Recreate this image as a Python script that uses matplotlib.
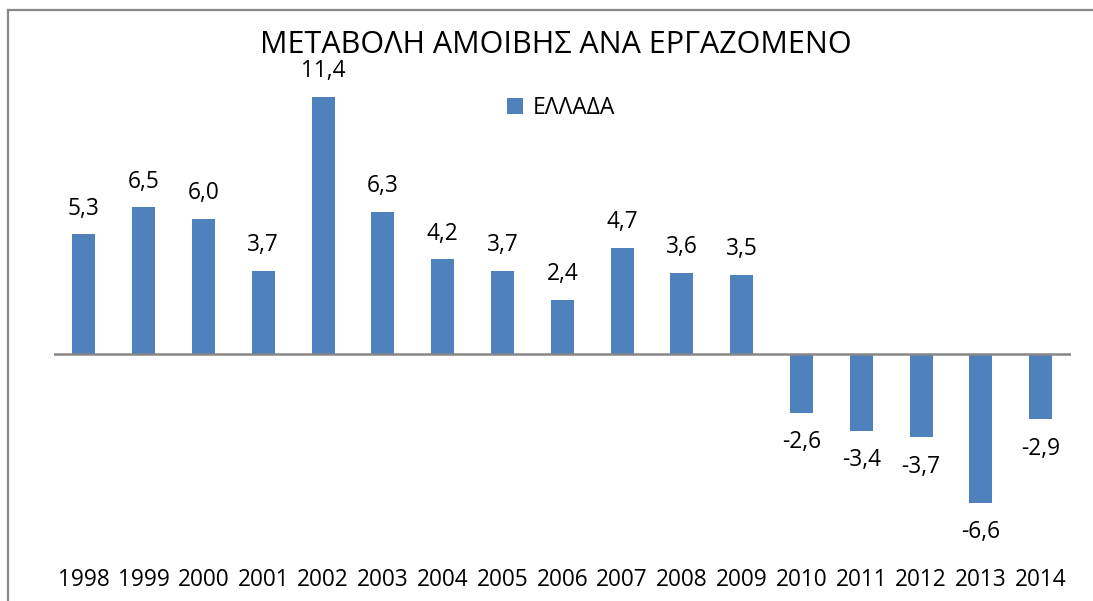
import matplotlib
matplotlib.use("Agg")
import matplotlib.pyplot as plt
from matplotlib.lines import Line2D

years = ["1998", "1999", "2000", "2001", "2002", "2003", "2004", "2005", "2006",
         "2007", "2008", "2009", "2010", "2011", "2012", "2013", "2014"]
values = [5.3, 6.5, 6.0, 3.7, 11.4, 6.3, 4.2, 3.7, 2.4, 4.7, 3.6, 3.5,
          -2.6, -3.4, -3.7, -6.6, -2.9]
series_name = "ΕΛΛΑΔΑ"
title = "ΜΕΤΑΒΟΛΗ ΑΜΟΙΒΗΣ ΑΝΑ ΕΡΓΑΖΟΜΕΝΟ"

plt.rcParams['font.family'] = ['Open Sans', 'DejaVu Sans']

W, H = 1093, 601
fig = plt.figure(figsize=(W / 100, H / 100), dpi=100)
fig.patch.set_facecolor("white")

# border (top and left visible)
fig.add_artist(Line2D([8 / W, 1.0], [1 - 10 / H, 1 - 10 / H], color="#898989", lw=1.6))
fig.add_artist(Line2D([8 / W, 8 / W], [0, 1 - 10 / H], color="#898989", lw=1.6))

left, right = 54 / W, 1070.6 / W
top_px, bot_px = 83.4, 534.4
ax = fig.add_axes([left, 1 - bot_px / H, right - left, (bot_px - top_px) / H])
ax.set_facecolor("none")

x = list(range(len(years)))
color = "#4F81BD"
bars = ax.bar(x, values, width=0.385, color=color, label=series_name, zorder=2)
ax.set_xlim(-0.5, len(years) - 0.5)
ax.set_ylim(-8, 12)
ax.axhline(0, color="#868686", lw=1.8, zorder=3)

for xi, v in zip(x, values):
    lbl = f"{v:.1f}".replace(".", ",")
    off = 18.5 if v >= 0 else -21
    ax.annotate(lbl, (xi, v), xytext=(0, off), textcoords="offset points",
                ha="center", va="center", fontsize=16.3, color="#000000")

for s in ax.spines.values():
    s.set_visible(False)
ax.set_yticks([])
ax.set_xticks(x)
ax.set_xticklabels(years, fontsize=16.3)
ax.tick_params(axis="x", length=0, pad=24.5)

fig.text(556 / W, 1 - 45 / H, title, ha="center", va="center", fontsize=22, color="#000000")

leg = ax.legend(loc="center", bbox_to_anchor=((561 - 54) / (1070.6 - 54), (534.4 - 108) / (534.4 - 83.4)),
                frameon=False, fontsize=16.5, handlelength=0.7, handleheight=0.7,
                handletextpad=0.4, borderpad=0)

fig.savefig("out.png", dpi=100, facecolor="white")
